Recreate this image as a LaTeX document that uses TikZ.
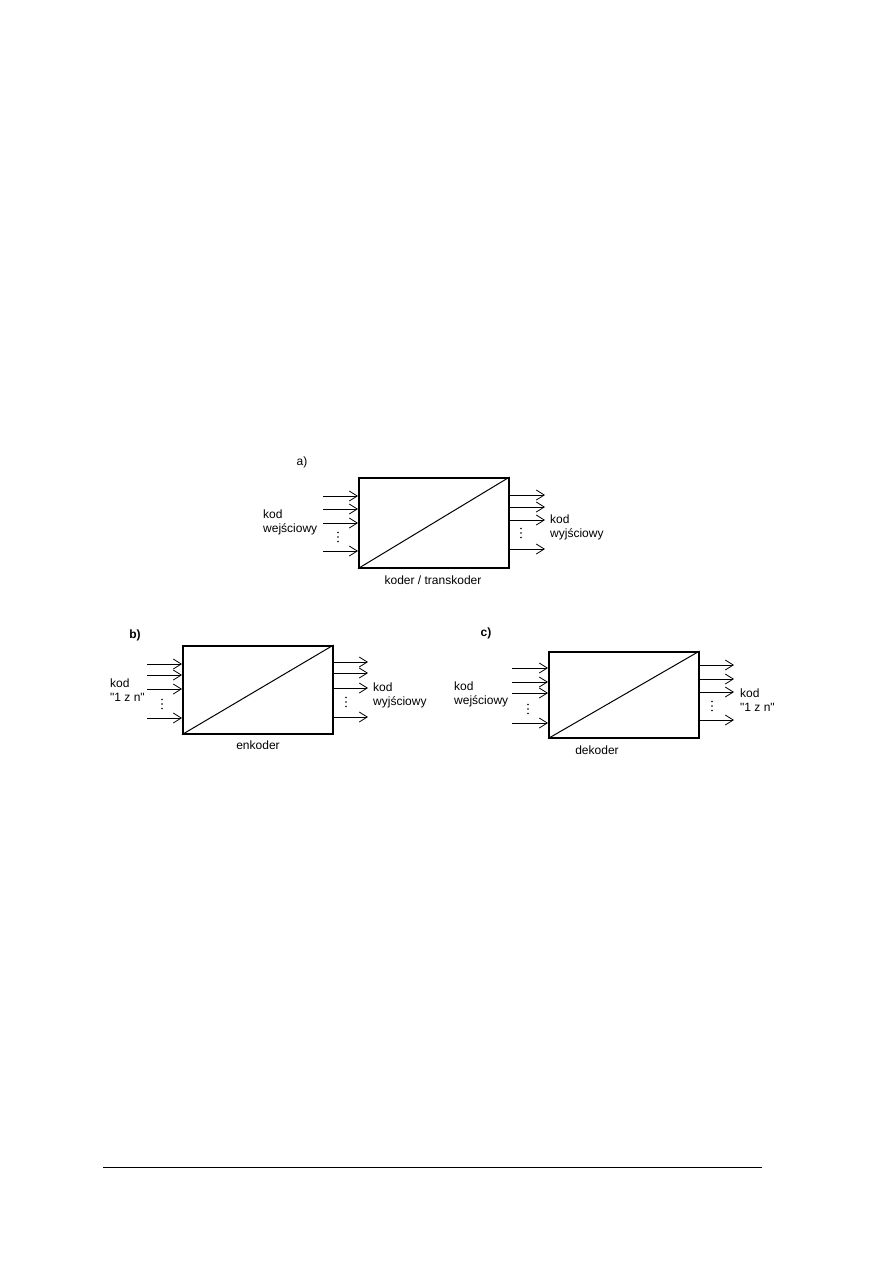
\documentclass[tikz,border=0pt]{standalone}
\usepackage{fontspec}
\setmainfont{Liberation Sans}[Ligatures=TeXOff]
\usetikzlibrary{arrows.meta}
\begin{document}
\begin{tikzpicture}[x=1pt,y=-1pt,
  blk/.style={draw,line width=1.6pt,minimum width=150pt,inner sep=0pt,anchor=north west},
  arr/.style={line width=0.8pt,-{Straight Barb[length=8pt,width=10pt,line width=0.8pt]}},
  lbl/.style={inner sep=0pt,align=left,font=\fontsize{12}{14}\selectfont},
  ttl/.style={inner sep=0pt,font=\fontsize{12}{14}\selectfont},
  hd/.style={inner sep=0pt,font=\fontsize{12}{14}\selectfont\bfseries},
  vd/.pic={\foreach \k in {-1,0,1} \fill (0,\k*4.5) circle (0.85);}]
\useasboundingbox (0,0) rectangle (893,1263);
% ---------- a) ----------
\node[blk,minimum height=90pt] (A) at (358,477) {};
\draw[line width=1pt] (A.south west) -- (A.north east);
\node[ttl] (Ah) at (302,462) {a)};
\foreach \i/\y in {1/496,2/509,3/523,4/551}{
  \coordinate (ai\i) at (323,\y);
  \draw[arr] (ai\i) -- (ai\i -| A.west);
}
\foreach \i/\y in {1/495,2/507,3/520,4/549}{
  \coordinate (ao\i) at (545,\y);
  \draw[arr] (ao\i -| A.east) -- (ao\i);
}
\pic at (338,537) {vd};
\pic at (521,533) {vd};
\node[lbl,anchor=west] (Ali) at (263,522) {kod\\wejściowy};
\node[lbl,anchor=west] (Alo) at (550,527) {kod\\wyjściowy};
\node[ttl] (At) at (433,580) {koder / transkoder};
% ---------- b) ----------
\node[blk,minimum height=88pt] (B) at (182,645) {};
\draw[line width=1pt] (B.south west) -- (B.north east);
\node[hd] (Bh) at (135,635) {b)};
\foreach \i/\y in {1/664,2/675,3/689,4/718}{
  \coordinate (bi\i) at (147,\y);
  \draw[arr] (bi\i) -- (bi\i -| B.west);
}
\foreach \i/\y in {1/662,2/673,3/688,4/717}{
  \coordinate (bo\i) at (368,\y);
  \draw[arr] (bo\i -| B.east) -- (bo\i);
}
\pic at (162,704) {vd};
\pic at (346,702) {vd};
\node[lbl,anchor=west] (Bli) at (110,690) {kod\\"1 z n"};
\node[lbl,anchor=west] (Blo) at (373,695) {kod\\wyjściowy};
\node[ttl] (Bt) at (258,745) {enkoder};
% ---------- c) ----------
\node[blk,minimum height=86pt] (C) at (548,651) {};
\draw[line width=1pt] (C.south west) -- (C.north east);
\node[hd] (Ch) at (486,633) {c)};
\foreach \i/\y in {1/668,2/682,3/693,4/723}{
  \coordinate (ci\i) at (512,\y);
  \draw[arr] (ci\i) -- (ci\i -| C.west);
}
\foreach \i/\y in {1/665,2/679,3/692,4/720}{
  \coordinate (co\i) at (734,\y);
  \draw[arr] (co\i -| C.east) -- (co\i);
}
\pic at (528,709) {vd};
\pic at (712,706) {vd};
\node[lbl,anchor=west] (Cli) at (454,694) {kod\\wejściowy};
\node[lbl,anchor=west] (Clo) at (740,700) {kod\\"1 z n"};
\node[ttl] (Ct) at (597,750) {dekoder};
% ---------- footer rule ----------
\coordinate (r1) at (103,1167);
\coordinate (r2) at (762,1167);
\draw[line width=1pt] (r1) -- (r2);
\end{tikzpicture}
\end{document}
